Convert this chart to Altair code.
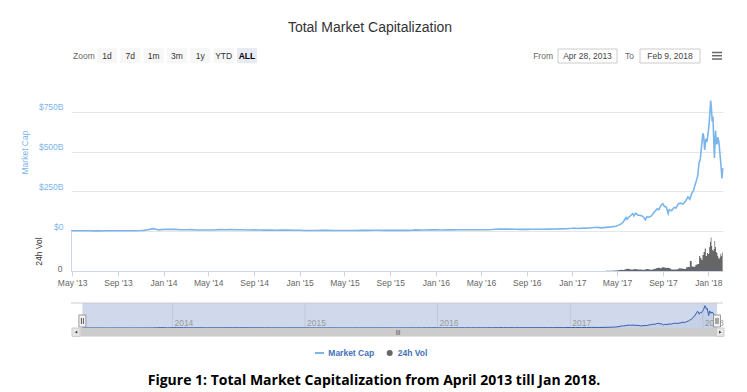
import altair as alt
import pandas as pd

TITLE = "Total Market Capitalization"
CAPTION = "Figure 1: Total Market Capitalization from April 2013 till Jan 2018."
ZOOM_BUTTONS = ["1d", "7d", "1m", "3m", "1y", "YTD", "ALL"]
ZOOM_SELECTED = "ALL"
RANGE_FROM = "Apr 28, 2013"
RANGE_TO = "Feb 9, 2018"
RANGE_START = "2013-04-28"
RANGE_END = "2018-02-09"
LEGEND_ITEMS = ["Market Cap", "24h Vol"]

# total market capitalization, billions of USD
market_cap = [
    ("2013-04-28", 1.6), ("2013-05-15", 1.4), ("2013-06-01", 1.5), ("2013-06-15", 1.2),
    ("2013-07-01", 1.1), ("2013-07-15", 1.1), ("2013-08-01", 1.2), ("2013-08-15", 1.3),
    ("2013-09-01", 1.6), ("2013-09-15", 1.6), ("2013-10-01", 1.6), ("2013-10-15", 1.9),
    ("2013-11-01", 2.7), ("2013-11-10", 4.2), ("2013-11-18", 8.0), ("2013-11-22", 8.5),
    ("2013-11-30", 13.5), ("2013-12-04", 15.0), ("2013-12-10", 12.0), ("2013-12-18", 6.5),
    ("2013-12-25", 8.5), ("2014-01-05", 11.0), ("2014-01-15", 10.5), ("2014-02-01", 10.0),
    ("2014-02-15", 8.0), ("2014-03-01", 7.5), ("2014-03-15", 8.5), ("2014-04-01", 6.0),
    ("2014-04-15", 6.0), ("2014-05-01", 6.0), ("2014-05-15", 6.5), ("2014-06-01", 8.5),
    ("2014-06-15", 8.0), ("2014-07-01", 8.5), ("2014-07-15", 8.3), ("2014-08-01", 8.0),
    ("2014-08-15", 6.5), ("2014-09-01", 6.8), ("2014-09-15", 6.3), ("2014-10-01", 5.2),
    ("2014-10-15", 5.3), ("2014-11-01", 4.6), ("2014-11-15", 5.5), ("2014-12-01", 5.4),
    ("2014-12-15", 4.9), ("2015-01-01", 4.5), ("2015-01-15", 3.3), ("2015-02-01", 3.6),
    ("2015-02-15", 3.6), ("2015-03-01", 4.0), ("2015-03-15", 4.3), ("2015-04-01", 3.6),
    ("2015-04-15", 3.5), ("2015-05-01", 3.6), ("2015-05-15", 3.6), ("2015-06-01", 3.6),
    ("2015-06-15", 3.7), ("2015-07-01", 4.1), ("2015-07-15", 4.5), ("2015-08-01", 4.3),
    ("2015-08-15", 4.1), ("2015-09-01", 3.8), ("2015-09-15", 3.7), ("2015-10-01", 3.8),
    ("2015-10-15", 4.1), ("2015-11-01", 5.3), ("2015-11-05", 7.0), ("2015-11-15", 5.5),
    ("2015-12-01", 6.2), ("2015-12-15", 7.3), ("2016-01-01", 7.0), ("2016-01-15", 6.3),
    ("2016-02-01", 6.9), ("2016-02-15", 7.3), ("2016-03-01", 7.7), ("2016-03-15", 7.9),
    ("2016-04-01", 7.7), ("2016-04-15", 7.8), ("2016-05-01", 8.0), ("2016-05-15", 8.3),
    ("2016-06-01", 9.9), ("2016-06-17", 12.5), ("2016-07-01", 11.8), ("2016-07-15", 11.7),
    ("2016-08-01", 10.8), ("2016-08-15", 10.0), ("2016-09-01", 10.5), ("2016-09-15", 10.6),
    ("2016-10-01", 10.9), ("2016-10-15", 11.2), ("2016-11-01", 12.0), ("2016-11-15", 12.6),
    ("2016-12-01", 13.3), ("2016-12-15", 13.8), ("2017-01-01", 17.7), ("2017-01-05", 19.0),
    ("2017-01-15", 15.8), ("2017-02-01", 17.8), ("2017-02-15", 18.9), ("2017-03-01", 22.0),
    ("2017-03-10", 23.0), ("2017-03-20", 20.0), ("2017-04-01", 23.0), ("2017-04-15", 26.0),
    ("2017-04-28", 30.0), ("2017-05-05", 37.0), ("2017-05-12", 45.0), ("2017-05-18", 58.0),
    ("2017-05-25", 85.0), ("2017-05-27", 74.0), ("2017-06-01", 86.0), ("2017-06-06", 96.0),
    ("2017-06-12", 110.0), ("2017-06-15", 95.0), ("2017-06-20", 112.0), ("2017-06-26", 100.0),
    ("2017-07-01", 99.0), ("2017-07-07", 95.0), ("2017-07-12", 85.0), ("2017-07-16", 70.0),
    ("2017-07-20", 90.0), ("2017-07-26", 87.0), ("2017-08-01", 95.0), ("2017-08-07", 115.0),
    ("2017-08-13", 130.0), ("2017-08-17", 140.0), ("2017-08-21", 135.0), ("2017-08-27", 162.0),
    ("2017-09-01", 172.0), ("2017-09-05", 155.0), ("2017-09-10", 150.0), ("2017-09-15", 110.0),
    ("2017-09-18", 135.0), ("2017-09-24", 128.0), ("2017-10-01", 148.0), ("2017-10-06", 145.0),
    ("2017-10-12", 170.0), ("2017-10-18", 175.0), ("2017-10-25", 170.0), ("2017-11-01", 190.0),
    ("2017-11-07", 215.0), ("2017-11-12", 200.0), ("2017-11-17", 235.0), ("2017-11-22", 255.0),
    ("2017-11-26", 290.0), ("2017-11-30", 320.0), ("2017-12-03", 345.0), ("2017-12-07", 430.0),
    ("2017-12-10", 450.0), ("2017-12-13", 520.0), ("2017-12-17", 615.0), ("2017-12-19", 600.0),
    ("2017-12-22", 510.0), ("2017-12-25", 580.0), ("2017-12-28", 560.0), ("2017-12-31", 612.0),
    ("2018-01-03", 680.0), ("2018-01-07", 820.0), ("2018-01-09", 770.0), ("2018-01-11", 690.0),
    ("2018-01-13", 720.0), ("2018-01-16", 520.0), ("2018-01-17", 460.0), ("2018-01-20", 630.0),
    ("2018-01-22", 560.0), ("2018-01-24", 545.0), ("2018-01-26", 590.0), ("2018-01-29", 560.0),
    ("2018-02-01", 480.0), ("2018-02-03", 430.0), ("2018-02-05", 370.0), ("2018-02-06", 330.0),
    ("2018-02-08", 385.0), ("2018-02-09", 395.0),
]

# 24h volume, billions of USD
volume = [
    ("2017-04-01", 0.5), ("2017-04-06", 0.6), ("2017-04-11", 0.6), ("2017-04-16", 0.7),
    ("2017-04-21", 0.9), ("2017-04-26", 1.2), ("2017-05-01", 1.5), ("2017-05-06", 2.2),
    ("2017-05-11", 2.6), ("2017-05-16", 2.0), ("2017-05-21", 3.5), ("2017-05-26", 4.5),
    ("2017-05-31", 3.8), ("2017-06-05", 3.2), ("2017-06-10", 3.0), ("2017-06-15", 4.2),
    ("2017-06-20", 3.5), ("2017-06-25", 3.0), ("2017-06-30", 2.8), ("2017-07-05", 2.4),
    ("2017-07-10", 2.5), ("2017-07-15", 3.4), ("2017-07-20", 4.0), ("2017-07-25", 2.8),
    ("2017-07-30", 2.5), ("2017-08-04", 3.5), ("2017-08-09", 4.5), ("2017-08-14", 6.0),
    ("2017-08-19", 6.5), ("2017-08-24", 5.5), ("2017-08-29", 7.5), ("2017-09-03", 7.0),
    ("2017-09-08", 6.0), ("2017-09-13", 6.5), ("2017-09-18", 5.0), ("2017-09-23", 3.0),
    ("2017-09-28", 3.2), ("2017-10-03", 3.0), ("2017-10-08", 3.5), ("2017-10-13", 5.5),
    ("2017-10-18", 5.0), ("2017-10-23", 4.5), ("2017-10-28", 4.0), ("2017-11-02", 7.5),
    ("2017-11-07", 8.0), ("2017-11-12", 20.0), ("2017-11-17", 9.0), ("2017-11-22", 8.5),
    ("2017-11-27", 12.5), ("2017-12-02", 14.0), ("2017-12-07", 30.0), ("2017-12-10", 26.0),
    ("2017-12-13", 22.0), ("2017-12-16", 32.0), ("2017-12-19", 38.0), ("2017-12-22", 45.0),
    ("2017-12-25", 30.0), ("2017-12-28", 36.0), ("2017-12-31", 34.0), ("2018-01-03", 48.0),
    ("2018-01-05", 58.0), ("2018-01-07", 67.0), ("2018-01-09", 50.0), ("2018-01-11", 42.0),
    ("2018-01-13", 40.0), ("2018-01-15", 44.0), ("2018-01-17", 60.0), ("2018-01-19", 48.0),
    ("2018-01-21", 38.0), ("2018-01-23", 36.0), ("2018-01-25", 30.0), ("2018-01-27", 26.0),
    ("2018-01-29", 24.0), ("2018-01-31", 28.0), ("2018-02-02", 34.0), ("2018-02-04", 30.0),
    ("2018-02-06", 37.0), ("2018-02-08", 28.0),
]

x_tick_dates = ["2013-05-01", "2013-09-01", "2014-01-01", "2014-05-01", "2014-09-01",
                "2015-01-01", "2015-05-01", "2015-09-01", "2016-01-01", "2016-05-01",
                "2016-09-01", "2017-01-01", "2017-05-01", "2017-09-01", "2018-01-01"]
cap_ticks = [0, 250, 500, 750]
vol_ticks = [0]
nav_year_dates = ["2014-01-01", "2015-01-01", "2016-01-01", "2017-01-01", "2018-01-01"]

FONT = "Liberation Sans"
BLUE = "#7cb5ec"
W = 652


def ms(d):
    return int(pd.Timestamp(d).value // 10**6)


cap_df = pd.DataFrame(market_cap, columns=["date", "cap"])
vol_df = pd.DataFrame(volume, columns=["date", "vol"])
range_df = pd.DataFrame({"start": [RANGE_START], "end": [RANGE_END]})
handle_df = pd.DataFrame({"d": [RANGE_START, RANGE_END]})
years_df = pd.DataFrame({"year": nav_year_dates, "label": [d[:4] for d in nav_year_dates]})
btn_df = pd.DataFrame({"label": ZOOM_BUTTONS})
one = pd.DataFrame({"k": [0]})

x_scale = alt.Scale(type="utc", domain=[ms(RANGE_START), ms(RANGE_END)])


def deco():
    return alt.Chart(one)


# ---------------- header ----------------
anchor = deco().mark_rect(opacity=0).encode(
    x=alt.value(-63), x2=alt.value(-62), y=alt.value(0), y2=alt.value(1))
title = deco().mark_text(text=TITLE, fontSize=14, color="#333333", font=FONT,
                         baseline="middle", align="center").encode(
    x=alt.value(299), y=alt.value(20))
zoom_lbl = deco().mark_text(text="Zoom", fontSize=8.5, color="#666666", font=FONT,
                            align="left", baseline="middle").encode(
    x=alt.value(2), y=alt.value(47.5))
btn_scale = alt.Scale(type="band", domain=ZOOM_BUTTONS, range=[26, 186],
                      paddingInner=0.14, paddingOuter=0)
btn_rect = alt.Chart(btn_df).mark_rect().encode(
    x=alt.X("label:N", scale=btn_scale, axis=None),
    y=alt.value(40), y2=alt.value(55),
    color=alt.condition(alt.datum.label == ZOOM_SELECTED,
                        alt.value("#e6ebf5"), alt.value("#f7f7f7")))
btn_text = alt.Chart(btn_df).mark_text(fontSize=8.5, color="#333333", font=FONT,
                                       baseline="middle").encode(
    x=alt.X("label:N", scale=btn_scale, axis=None), y=alt.value(47.5),
    text="label:N").transform_filter(alt.datum.label != ZOOM_SELECTED)
btn_sel = alt.Chart(btn_df).mark_text(fontSize=8.5, color="#000000", font=FONT,
                                      fontWeight="bold", baseline="middle").encode(
    x=alt.X("label:N", scale=btn_scale, axis=None), y=alt.value(47.5),
    text="label:N").transform_filter(alt.datum.label == ZOOM_SELECTED)
from_lbl = deco().mark_text(text="From", fontSize=8.5, color="#666666", font=FONT,
                            align="right", baseline="middle").encode(
    x=alt.value(482), y=alt.value(47.5))
from_box = deco().mark_rect(fill="white", stroke="#cccccc", strokeWidth=1).encode(
    x=alt.value(487), x2=alt.value(546), y=alt.value(41), y2=alt.value(55))
from_txt = deco().mark_text(text=RANGE_FROM, fontSize=8.5, color="#444444", font=FONT,
                            baseline="middle").encode(x=alt.value(516.5), y=alt.value(47.5))
to_lbl = deco().mark_text(text="To", fontSize=8.5, color="#666666", font=FONT,
                          align="left", baseline="middle").encode(
    x=alt.value(554), y=alt.value(47.5))
to_box = deco().mark_rect(fill="white", stroke="#cccccc", strokeWidth=1).encode(
    x=alt.value(569), x2=alt.value(629), y=alt.value(41), y2=alt.value(55))
to_txt = deco().mark_text(text=RANGE_TO, fontSize=8.5, color="#444444", font=FONT,
                          baseline="middle").encode(x=alt.value(599), y=alt.value(47.5))
burger = [deco().mark_rule(color="#666666", strokeWidth=1.5).encode(
    x=alt.value(641), x2=alt.value(651), y=alt.value(yy)) for yy in (44.5, 47.7, 51)]

header = alt.layer(anchor, title, zoom_lbl, btn_rect, btn_text, btn_sel, from_lbl,
                   from_box, from_txt, to_lbl, to_box, to_txt, *burger).properties(
    width=W, height=72)

# ---------------- main market cap ----------------
main = alt.Chart(cap_df).mark_line(color=BLUE, strokeWidth=1.6).encode(
    x=alt.X("date:T", scale=x_scale, axis=None),
    y=alt.Y("cap:Q", scale=alt.Scale(domain=[0, 950], nice=False),
            axis=alt.Axis(values=cap_ticks,
                          labelExpr="datum.value == 0 ? '$0' : '$' + datum.value + 'B'",
                          title="Market Cap", titleColor=BLUE, titleFontSize=8.5,
                          titleFont=FONT, titleFontWeight="normal",
                          titleX=-46.5, titleY=72, titleAngle=270, titleAlign="center",
                          titleBaseline="middle",
                          labelColor=BLUE, labelFontSize=8.5, labelFont=FONT,
                          labelPadding=8, labelBaseline="alphabetic", labelOffset=-2,
                          grid=True, gridColor="#e6e6e6", domain=False, ticks=False)),
).properties(width=W, height=151)

# ---------------- volume ----------------
vol_chart = alt.Chart(vol_df).mark_area(interpolate="step-after", color="#666666").encode(
    x=alt.X("date:T", scale=x_scale,
            axis=alt.Axis(values=[ms(d) for d in x_tick_dates], format="%b '%y", title=None,
                          domainColor="#ccd6eb", tickColor="#ccd6eb", tickSize=5,
                          labelColor="#666666", labelFontSize=8.5, labelFont=FONT,
                          labelPadding=2, labelFlush=False, labelOverlap=False,
                          labelAngle=0, grid=False)),
    y=alt.Y("vol:Q", scale=alt.Scale(domain=[0, 80], nice=False),
            axis=alt.Axis(values=vol_ticks, title="24h Vol", titleColor="#333333",
                          titleFontSize=8.5, titleFont=FONT, titleFontWeight="normal",
                          titleX=-32.5, titleY=20, titleAngle=270, titleAlign="center",
                          titleBaseline="middle",
                          labelColor="#666666", labelFontSize=8.5, labelFont=FONT,
                          labelPadding=9, labelBaseline="alphabetic",
                          grid=False, domain=True, domainColor="#ccd6eb", ticks=False)),
).properties(width=W, height=40)

spacer = deco().mark_text(text="").encode(x=alt.value(0), y=alt.value(0)).properties(
    width=W, height=31.8)

# ---------------- navigator ----------------
nav_x = alt.Scale(type="utc", domain=[ms(RANGE_START), ms(RANGE_END)], range=[11.4, 646])
NH = 25
mask = alt.Chart(range_df).mark_rect(color="#d0d9ec").encode(
    x=alt.X("start:T", scale=nav_x, axis=None), x2="end:T",
    y=alt.value(0), y2=alt.value(NH))
ygrid = alt.Chart(years_df).mark_rule(color="#c0c9db").encode(
    x=alt.X("year:T", scale=nav_x, axis=None), y=alt.value(0), y2=alt.value(NH))
ylab = alt.Chart(years_df).mark_text(align="left", dx=2, baseline="middle", fontSize=8.5,
                                     font=FONT, color="#999999").encode(
    x=alt.X("year:T", scale=nav_x, axis=None), y=alt.value(19.5), text="label:N")
nav_y = alt.Scale(domain=[0, 920], nice=False)
nav_area = alt.Chart(cap_df).mark_area(color="#335cad", opacity=0.06).encode(
    x=alt.X("date:T", scale=nav_x, axis=None), y=alt.Y("cap:Q", scale=nav_y, axis=None))
nav_line = alt.Chart(cap_df).mark_line(color="#335cad", strokeWidth=1).encode(
    x=alt.X("date:T", scale=nav_x, axis=None), y=alt.Y("cap:Q", scale=nav_y, axis=None))
outline = deco().mark_rule(color="#cccccc").encode(
    x=alt.value(0), x2=alt.value(W), y=alt.value(0))
handles = alt.Chart(handle_df).mark_rect(fill="#f2f2f2", stroke="#999999", strokeWidth=1,
                                         xOffset=-3.5, x2Offset=3.5).encode(
    x=alt.X("d:T", scale=nav_x, axis=None), x2="d:T", y=alt.value(12), y2=alt.value(24))
grips = [alt.Chart(handle_df).mark_rule(color="#333333", strokeWidth=0.8, xOffset=off).encode(
    x=alt.X("d:T", scale=nav_x, axis=None), y=alt.value(15), y2=alt.value(21))
    for off in (-1, 1)]
track = deco().mark_rect(color="#f2f2f2").encode(
    x=alt.value(1), x2=alt.value(653), y=alt.value(NH), y2=alt.value(NH + 8.4))
bar = alt.Chart(range_df).mark_rect(color="#cccccc", xOffset=-2).encode(
    x=alt.X("start:T", scale=nav_x, axis=None), x2="end:T",
    y=alt.value(NH), y2=alt.value(NH + 8.4))
btn_l = deco().mark_rect(fill="#e6e6e6", stroke="#cccccc", strokeWidth=1).encode(
    x=alt.value(1), x2=alt.value(9), y=alt.value(NH), y2=alt.value(NH + 8.4))
btn_r = deco().mark_rect(fill="#e6e6e6", stroke="#cccccc", strokeWidth=1).encode(
    x=alt.value(645.5), x2=alt.value(653), y=alt.value(NH), y2=alt.value(NH + 8.4))
arr_l = deco().mark_point(shape="triangle-left", filled=True, size=8, color="#333333",
                          opacity=1).encode(x=alt.value(5), y=alt.value(NH + 4.2))
arr_r = deco().mark_point(shape="triangle-right", filled=True, size=8, color="#333333",
                          opacity=1).encode(x=alt.value(649.3), y=alt.value(NH + 4.2))
rifles = deco().mark_text(text="|||", fontSize=6, font=FONT, color="#333333",
                          baseline="middle").encode(x=alt.value(327), y=alt.value(NH + 4.4))

nav = alt.layer(mask, ygrid, ylab, nav_area, nav_line, outline, handles, *grips,
                track, bar, btn_l, btn_r, arr_l, arr_r, rifles).properties(
    width=W, height=NH)

# ---------------- footer: legend + caption ----------------
LEG_COLOR = "#4272b8"
leg_line = deco().mark_rule(color=BLUE, strokeWidth=2).encode(
    x=alt.value(244), x2=alt.value(253), y=alt.value(25))
leg_t1 = deco().mark_text(text=LEGEND_ITEMS[0], fontSize=8.5, font=FONT, fontWeight="bold",
                          color=LEG_COLOR, align="left", baseline="middle").encode(
    x=alt.value(257.3), y=alt.value(25))
leg_dot = deco().mark_point(shape="circle", filled=True, size=36, color="#666666",
                            opacity=1).encode(x=alt.value(318.7), y=alt.value(25))
leg_t2 = deco().mark_text(text=LEGEND_ITEMS[1], fontSize=8.5, font=FONT, fontWeight="bold",
                          color=LEG_COLOR, align="left", baseline="middle").encode(
    x=alt.value(326.7), y=alt.value(25))
cap_txt = deco().mark_text(text=CAPTION, fontSize=14, font="Open Sans", fontWeight="bold",
                           color="#000000", align="center", baseline="middle").encode(
    x=alt.value(303), y=alt.value(52.7))
footer = alt.layer(leg_line, leg_t1, leg_dot, leg_t2, cap_txt).properties(width=W, height=55)

chart = alt.vconcat(header, main, vol_chart, spacer, nav, footer,
                    spacing=0, bounds="flush").properties(
    padding={"left": 0, "top": 0, "right": 4, "bottom": 0}
).configure(font=FONT).configure_view(strokeWidth=0, stroke="transparent")

chart.save("out.html", embed_options={"renderer": "svg", "actions": False})
